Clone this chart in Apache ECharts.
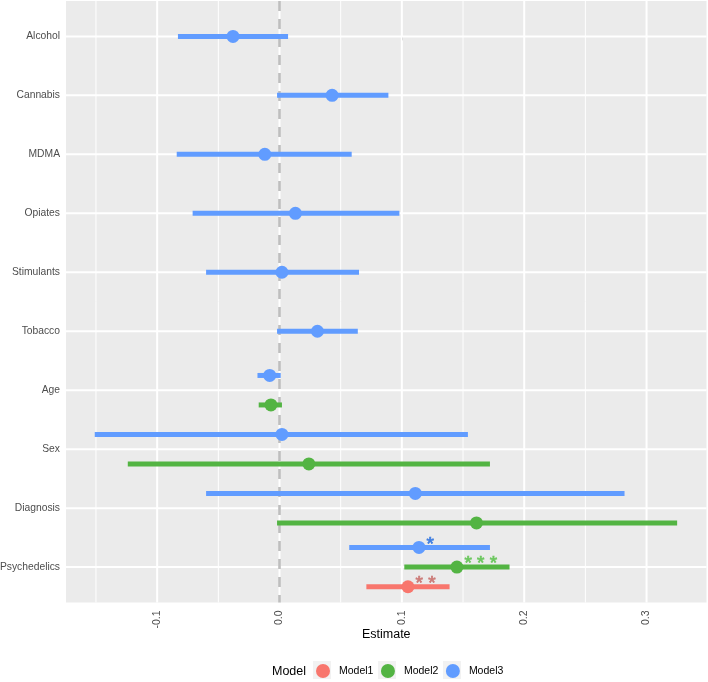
<!DOCTYPE html>
<html>
<head>
<meta charset="utf-8">
<script src="https://cdn.jsdelivr.net/npm/echarts@6/dist/echarts.min.js"></script>
<style>html,body{margin:0;padding:0;background:#fff;}#chart{width:708px;height:682px;}</style>
</head>
<body>
<div id="chart"></div>
<script>
// ---- data ----
const categories = ['Alcohol','Cannabis','MDMA','Opiates','Stimulants','Tobacco','Age','Sex','Diagnosis','Psychedelics'];
const modelNames = ['Model1','Model2','Model3'];

const model3Cats = ['Alcohol','Cannabis','MDMA','Opiates','Stimulants','Tobacco','Age','Sex','Diagnosis','Psychedelics'];
const model3Est  = [-0.038, 0.043, -0.012, 0.013, 0.002, 0.031, -0.008, 0.002, 0.111, 0.114];
const model3Lo   = [-0.083, -0.002, -0.084, -0.071, -0.060, -0.002, -0.018, -0.151, -0.060, 0.057];
const model3Hi   = [0.007, 0.089, 0.059, 0.098, 0.065, 0.064, 0.001, 0.154, 0.282, 0.172];
const model3Sig  = ['', '', '', '', '', '', '', '', '', '*'];

const model2Cats = ['Age','Sex','Diagnosis','Psychedelics'];
const model2Est  = [-0.007, 0.024, 0.161, 0.145];
const model2Lo   = [-0.017, -0.124, -0.002, 0.102];
const model2Hi   = [0.002, 0.172, 0.325, 0.188];
const model2Sig  = ['', '', '', '* * *'];

const model1Cats = ['Psychedelics'];
const model1Est  = [0.105];
const model1Lo   = [0.071];
const model1Hi   = [0.139];
const model1Sig  = ['* *'];

const xMajorTicks = [-0.1, 0.0, 0.1, 0.2, 0.3];
const xMinorTicks = [-0.15, -0.05, 0.05, 0.15, 0.25];

// ---- styling ----
const colors = {Model1:'#F8766D', Model2:'#53B443', Model3:'#619CFF'};
const starColors = {Model1:'#CC7B78', Model2:'#6CC75E', Model3:'#3F7EE0'};
const FONT = '"Liberation Sans", Arial, Helvetica, sans-serif';
const dodgeWidth = 1;

const models = [
  {name:'Model1', cats:model1Cats, est:model1Est, lo:model1Lo, hi:model1Hi, sig:model1Sig},
  {name:'Model2', cats:model2Cats, est:model2Est, lo:model2Lo, hi:model2Hi, sig:model2Sig},
  {name:'Model3', cats:model3Cats, est:model3Est, lo:model3Lo, hi:model3Hi, sig:model3Sig}
];

// dodge positions (ggplot position_dodge) computed from which models have each category
function dodgePos(modelIdx, cat) {
  const present = models.filter(m => m.cats.indexOf(cat) >= 0).map(m => m.name);
  const n = present.length;
  const j = present.indexOf(models[modelIdx].name);
  return categories.indexOf(cat) + (((n - 1) / 2 - j) / n) * dodgeWidth;
}

const dataSeries = models.map((m, mi) => ({
  name: m.name,
  type: 'custom',
  z: 5,
  itemStyle: {color: colors[m.name]},
  encode: {x: [0, 1, 2], y: 3},
  data: m.cats.map((c, k) => [m.est[k], m.lo[k], m.hi[k], dodgePos(mi, c), m.sig[k]]),
  renderItem: function (params, api) {
    const yv = api.value(3);
    const a = api.coord([api.value(1), yv]);
    const b = api.coord([api.value(2), yv]);
    const p = api.coord([api.value(0), yv]);
    const children = [
      {type:'line', shape:{x1:a[0], y1:a[1], x2:b[0], y2:b[1]}, style:{stroke:colors[m.name], lineWidth:5, lineCap:'butt'}},
      {type:'circle', shape:{cx:p[0], cy:p[1], r:6.5}, style:{fill:colors[m.name]}}
    ];
    const s = m.sig[params.dataIndex];
    if (s) {
      children.push({type:'text', x:p[0] + 7.5, y:p[1] - 3,
        style:{text:s, fill:starColors[m.name], stroke:starColors[m.name], lineWidth:0.7,
          fontSize:19, fontFamily:FONT, align:'left', verticalAlign:'middle'}});
    }
    return {type:'group', children};
  }
}));

function vLineSeries(values, width) {
  return {
    type:'custom', silent:true, z:1,
    encode:{x:0},
    data: values.map(v => [v]),
    renderItem: function (params, api) {
      const cs = params.coordSys;
      const x = api.coord([api.value(0), 0])[0];
      return {type:'line', shape:{x1:x, y1:cs.y, x2:x, y2:cs.y + cs.height}, style:{stroke:'#FFFFFF', lineWidth:width}};
    }
  };
}

const hLineSeries = {
  type:'custom', silent:true, z:1,
  encode:{y:1},
  data: categories.map((c, i) => [0, i]),
  renderItem: function (params, api) {
    const cs = params.coordSys;
    const y = api.coord([0, api.value(1)])[1];
    return {type:'line', shape:{x1:cs.x, y1:y, x2:cs.x + cs.width, y2:y}, style:{stroke:'#FFFFFF', lineWidth:2}};
  }
};

const zeroLineSeries = {
  type:'custom', silent:true, z:3,
  encode:{x:0},
  data:[[0]],
  renderItem: function (params, api) {
    const cs = params.coordSys;
    const x = api.coord([api.value(0), 0])[0];
    return {type:'line', shape:{x1:x, y1:cs.y, x2:x, y2:cs.y + cs.height},
      style:{stroke:'#BEBEBE', lineWidth:2.6, lineDash:[10, 8]}};
  }
};

const keyCenters = [322, 387, 452];

const chart = echarts.init(document.getElementById('chart'), null, {renderer:'canvas'});
chart.setOption({
  animation:false,
  backgroundColor:'#FFFFFF',
  textStyle:{fontFamily:FONT},
  grid:{left:66, right:1.5, top:1, bottom:79.5, show:true, backgroundColor:'#EBEBEB', borderWidth:0,
    containLabel:false, outerBoundsMode:'none'},
  xAxis:{
    type:'value', min:-0.1745, max:0.349,
    axisLine:{show:false},
    splitLine:{show:false},
    axisTick:{show:true, length:4, lineStyle:{color:'#333333', width:1}, customValues:xMajorTicks},
    axisLabel:{customValues:xMajorTicks, rotate:90, margin:8, fontSize:10.5, color:'#4D4D4D', fontFamily:FONT,
      formatter: v => Number(v).toFixed(1)},
    name:'Estimate', nameLocation:'middle', nameGap:26, nameMoveOverlap:false,
    nameTextStyle:{fontSize:12.5, color:'#000000', fontFamily:FONT}
  },
  yAxis:{
    type:'value', min:-0.6, max:9.6, inverse:true,
    axisLine:{show:false},
    splitLine:{show:false},
    axisTick:{show:true, length:4, lineStyle:{color:'#333333', width:1}, customValues:categories.map((c, i) => i)},
    axisLabel:{customValues:categories.map((c, i) => i), margin:6, fontSize:10.3, color:'#4D4D4D', fontFamily:FONT,
      formatter: v => categories[Math.round(v)]}
  },
  legend:{
    data:modelNames, orient:'horizontal', left:311, top:659,
    icon:'circle', itemWidth:22, itemHeight:14, itemGap:7.5, z:5,
    textStyle:{fontSize:10.5, color:'#000000', fontFamily:FONT}
  },
  graphic:[
    {type:'text', left:272, top:665, z:10, style:{text:'Model', fontSize:12.5, fill:'#000000', fontFamily:FONT}}
  ].concat(keyCenters.map(cx => ({type:'rect', z:1, shape:{x:cx - 9, y:670 - 9, width:18, height:18}, style:{fill:'#F2F2F2'}}))),
  series:[vLineSeries(xMinorTicks, 1), vLineSeries(xMajorTicks, 2), hLineSeries, zeroLineSeries].concat(dataSeries)
});
</script>
</body>
</html>
